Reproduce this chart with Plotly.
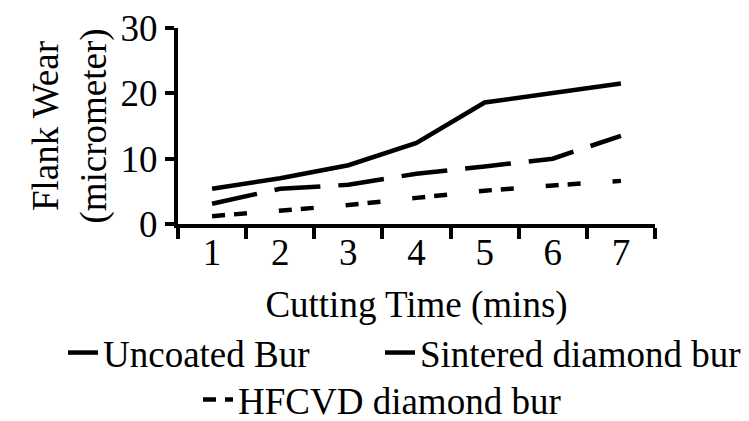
import plotly.graph_objects as go

cutting_time = ["1", "2", "3", "4", "5", "6", "7"]
uncoated = [5.4, 7.0, 9.0, 12.4, 18.6, 20.1, 21.5]
sintered = [3.1, 5.4, 6.0, 7.7, 8.8, 10.0, 13.5]
hfcvd = [1.2, 2.0, 2.9, 4.0, 5.1, 5.9, 6.6]
y_ticks = [0, 10, 20, 30]

FONT = "Liberation Serif"
FS = 37
# page body has an 8px margin; work in figure pixels
W, H = 741, 413
L, R, T, B = 170, 94, 20, 197
PW, PH = W - L - R, H - T - B


def legend_at(x_px, y_px):
    return dict(orientation="h", xref="paper", yref="paper",
                x=(x_px - L) / PW, xanchor="left",
                y=-(y_px - (T + PH)) / PH, yanchor="middle",
                font=dict(family=FONT, size=FS, color="black"),
                bgcolor="rgba(0,0,0,0)", itemwidth=30)


fig = go.Figure()
fig.add_trace(go.Scatter(x=cutting_time, y=uncoated, mode="lines", name="Uncoated Bur",
                         line=dict(color="black", width=4.5), legend="legend", showlegend=True))
fig.add_trace(go.Scatter(x=cutting_time, y=sintered, mode="lines", name="Sintered diamond bur",
                         line=dict(color="black", width=4.5, dash="46px,18px"), legend="legend2",
                         showlegend=True))
fig.add_trace(go.Scatter(x=cutting_time, y=hfcvd, mode="lines", name="HFCVD diamond bur",
                         line=dict(color="black", width=4.5, dash="13px,9px,13px,32px"), legend="legend3",
                         showlegend=True))

fig.update_layout(
    width=W, height=H, showlegend=True,
    margin=dict(l=L, r=R, t=T, b=B, autoexpand=False),
    paper_bgcolor="white", plot_bgcolor="white",
    font=dict(family=FONT, size=FS, color="black"),
    legend=legend_at(55, 345),
    legend2=legend_at(372, 345),
    legend3=legend_at(190, 392),
)
fig.update_xaxes(
    type="category", range=[-0.5, 6.5], showgrid=False, zeroline=False,
    showline=True, linecolor="black", linewidth=4,
    ticks="outside", tickson="boundaries", ticklen=11, tickwidth=4, tickcolor="black",
    tickfont=dict(family=FONT, size=FS), ticklabelstandoff=-7,
    title=dict(text="Cutting Time (mins)", font=dict(family=FONT, size=FS), standoff=20),
    automargin=False,
)
fig.update_yaxes(
    range=[0, 30], tickvals=y_ticks, showgrid=False, zeroline=False,
    showline=True, linecolor="black", linewidth=4,
    ticks="outside", ticklen=9, tickwidth=4, tickcolor="black",
    tickfont=dict(family=FONT, size=FS), ticklabeloverflow="allow",
    title=dict(text="Flank Wear<br>(micrometer)", font=dict(family=FONT, size=FS), standoff=4),
    automargin=False,
)

fig.write_html("out.html")
